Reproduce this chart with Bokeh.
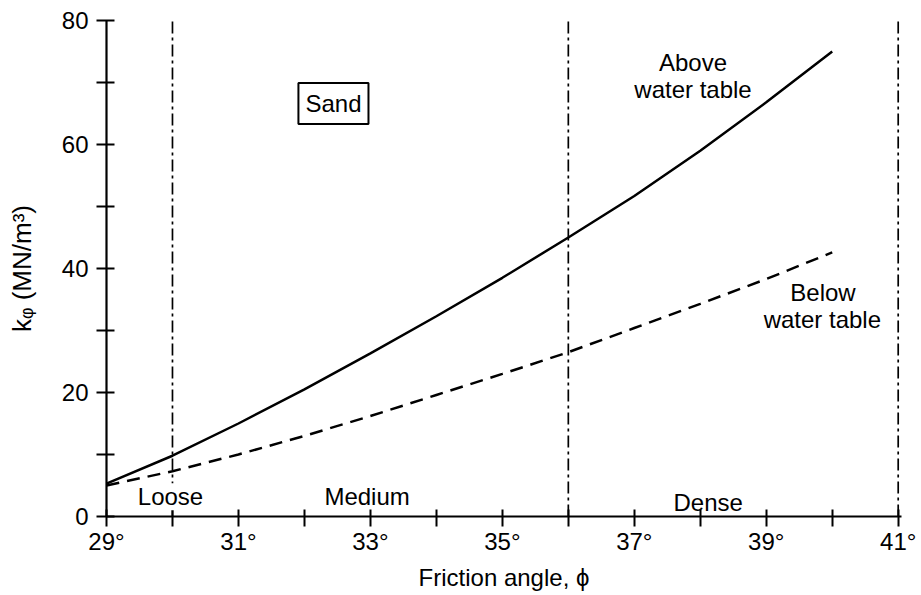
from bokeh.plotting import figure
from bokeh.models import FixedTicker, PrintfTickFormatter, Label, Range1d
from bokeh.embed import file_html
from bokeh.resources import INLINE

# --- data ---
phi = [29, 30, 31, 32, 33, 34, 35, 36, 37, 38, 39, 40]
k_above = [5.3, 9.8, 15.0, 20.5, 26.3, 32.3, 38.5, 45.0, 51.7, 59.0, 66.8, 75.0]
k_below = [5.0, 7.3, 10.0, 13.0, 16.2, 19.6, 23.0, 26.5, 30.4, 34.3, 38.3, 42.6]
density_bounds = [30, 36, 41]
density_names = ["Loose", "Medium", "Dense"]
x_major = [29, 31, 33, 35, 37, 39, 41]
x_minor = [30, 32, 34, 36, 38, 40]
y_major = [0, 20, 40, 60, 80]
y_minor = [10, 30, 50, 70]

FONT = "Liberation Sans"
FS = "24px"

p = figure(width=921, height=595, output_backend="svg", toolbar_location=None,
           title=None, x_range=Range1d(29, 41.05), y_range=Range1d(0, 80),
           min_border_left=106, min_border_right=20, min_border_top=20,
           min_border_bottom=79)
p.outline_line_color = None
p.xgrid.visible = False
p.ygrid.visible = False
p.background_fill_color = "white"
p.border_fill_color = "white"

# boundaries (dash-dot)
p.segment(x0=density_bounds, y0=[0] * 3, x1=density_bounds, y1=[80] * 3,
          line_color="black", line_width=1.7, line_dash="12 4 3 4")

# curves
p.line(phi, k_above, line_color="black", line_width=2.5)
p.line(phi, k_below, line_color="black", line_width=2.5, line_dash="13 8")

# axes
for ax in (p.xaxis[0], p.yaxis[0]):
    ax.axis_line_width = 2.2
    ax.axis_line_color = "black"
    ax.major_tick_line_width = 2
    ax.minor_tick_line_width = 2
    ax.major_tick_line_color = "black"
    ax.minor_tick_line_color = "black"
    ax.major_label_text_font = FONT
    ax.major_label_text_font_size = FS
    ax.major_label_text_color = "black"
    ax.axis_label_text_font = FONT
    ax.axis_label_text_font_size = "24px"
    ax.axis_label_text_font_style = "normal"
    ax.axis_label_text_color = "black"

xa = p.xaxis[0]
xa.ticker = FixedTicker(ticks=x_major, minor_ticks=x_minor)
xa.formatter = PrintfTickFormatter(format="%d°")
xa.major_tick_in = 7
xa.major_tick_out = 10
xa.minor_tick_in = 7
xa.minor_tick_out = 10
xa.major_label_standoff = 1
xa.axis_label = "Friction angle, ϕ"
xa.axis_label_standoff = 6

ya = p.yaxis[0]
ya.ticker = FixedTicker(ticks=y_major, minor_ticks=y_minor)
ya.major_tick_in = 8
ya.major_tick_out = 10
ya.minor_tick_in = 8
ya.minor_tick_out = 10
ya.major_label_standoff = 8
ya.axis_label = "kᵩ (MN/m³)"
ya.axis_label_text_font_size = "26px"
ya.axis_label_standoff = 22

def lab(x, y, t, **kw):
    opts = dict(x=x, y=y, text=t, text_font=FONT, text_font_size="24px",
                text_align="center", text_baseline="middle", text_color="black")
    opts.update(kw)
    p.add_layout(Label(**opts))

lab(32.44, 66.6, "Sand", border_line_color="black", border_line_width=2,
    background_fill_color="white", padding=7)
lab(37.89, 73.2, "Above")
lab(37.89, 68.9, "water table")
lab(39.86, 36.1, "Below")
lab(39.85, 31.8, "water table")
lab(29.97, 3.2, density_names[0], background_fill_color="white")
lab(32.95, 3.2, density_names[1])
lab(38.12, 2.3, density_names[2])

open("out.html", "w").write(file_html(p, INLINE))
